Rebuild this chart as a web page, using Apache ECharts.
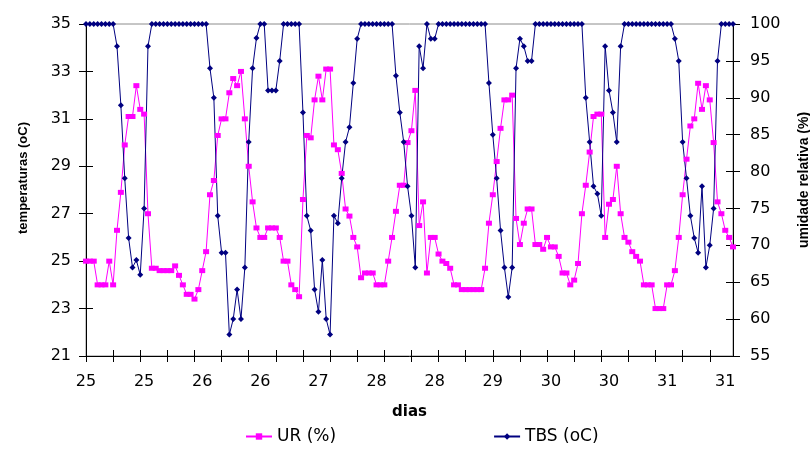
<!DOCTYPE html>
<html>
<head>
<meta charset="utf-8">
<script src="https://cdn.jsdelivr.net/npm/echarts@6/dist/echarts.min.js"></script>
<style>
html,body{margin:0;padding:0;background:#fff;}
#chart{width:810px;height:453px;}
</style>
</head>
<body>
<div id="chart"></div>
<script>
// Tick labels on the x axis (one label every 15 hourly points)
var dayLabels = ['25','25','26','26','27','28','28','29','30','30','31','31'];

// Magenta series (read on the left axis)
var urValues = [
25,25,25,24,24,24,25,24,26.3,27.9,29.9,31.1,31.1,32.4,31.4,31.2,27.0,24.7,24.7,24.6,24.6,24.6,24.6,24.8,24.4,24.0,23.6,23.6,
23.4,23.8,24.6,25.4,27.8,28.4,30.3,31.0,31.0,32.1,32.7,32.4,33.0,31.0,29.0,27.5,26.4,26.0,26.0,26.4,26.4,26.4,26.0,25.0,25.0,24.0,23.8,23.5,
27.6,30.3,30.2,31.8,32.8,31.8,33.1,33.1,29.9,29.7,28.7,27.2,26.9,26.0,25.6,24.3,24.5,24.5,24.5,24.0,24.0,24.0,25.0,26.0,27.1,28.2,28.2,30.0,30.5,32.2,
26.5,27.5,24.5,26.0,26.0,25.3,25.0,24.9,24.7,24.0,24.0,23.8,23.8,23.8,23.8,23.8,23.8,24.7,26.6,27.8,29.2,30.6,31.8,31.8,32.0,26.8,25.7,26.6,
27.2,27.2,25.7,25.7,25.5,26.0,25.6,25.6,25.2,24.5,24.5,24.0,24.2,24.9,27.0,28.2,29.6,31.1,31.2,31.2,26.0,27.4,27.6,29.0,27.0,26.0,25.8,25.4,
25.2,25.0,24.0,24.0,24.0,23.0,23.0,23.0,24.0,24.0,24.6,26.0,27.8,29.3,30.7,31.0,32.5,31.4,32.4,31.8,30.0,27.5,27.0,26.3,26.0,25.6
];

// Navy series (read on the right axis)
var tbsValues = [
100,100,100,100,100,100,100,100,97,89,79.1,71,67,68,66,75,97,
100,100,100,100,100,100,100,100,100,100,100,100,100,100,100,
94,90,74,69,69,57.9,60,64,60,67,84,94,98.1,100,100,91,91,91,95,
100,100,100,100,100,
88,74,72,64,61,68,60,57.9,74,73,79.1,84,86,92,98,
100,100,100,100,100,100,100,100,100,
93,88,84,78,74,67,97,94,100,98,98,
100,100,100,100,100,100,100,100,100,100,100,100,100,
92,85,79.1,72,67,63,67,94,98,97,95,95,
100,100,100,100,100,100,100,100,100,100,100,100,100,
90,84,78,77,74,97,91,88,84,97,
100,100,100,100,100,100,100,100,100,100,100,100,100,
98,95,84,79.1,74,71,69,78,67,70,75,95,
100,100,100,100
];

var categories = urValues.map(function (v, i) {
  return (i % 15 === 0 && dayLabels[i / 15] !== undefined) ? dayLabels[i / 15] : '';
});

var WIDE = "'DejaVu Sans', Verdana, sans-serif";
var NARROW = "'Liberation Sans', Arial, sans-serif";
var chart = echarts.init(document.getElementById('chart'), null, {renderer: 'canvas'});

function xAx(inside) {
  return {
    type: 'category',
    data: categories,
    boundaryGap: false,
    position: 'bottom',
    axisLine: {show: !inside, lineStyle: {color: '#000', width: 1}},
    axisTick: {show: true, inside: inside, interval: 6, length: 6, lineStyle: {color: '#000', width: 1}},
    axisLabel: inside ? {show: false} : {
      show: true, interval: 14, fontSize: 16, color: '#000', fontFamily: WIDE, margin: 18
    },
    splitLine: {show: false},
    name: inside ? '' : 'dias',
    nameLocation: 'middle',
    nameGap: 49,
    nameTextStyle: {fontSize: 15, fontWeight: 'bold', color: '#000', fontFamily: WIDE}
  };
}

function yAx(side, inside, min, max, interval, name, gap, pad, nameSize) {
  return {
    type: 'value',
    position: side,
    min: min, max: max, interval: interval,
    axisLine: {show: !inside, lineStyle: {color: '#000', width: 1}},
    axisTick: {show: true, inside: inside, length: 7, lineStyle: {color: '#000', width: 1}},
    axisLabel: inside ? {show: false} : {
      show: true, fontSize: 16, color: '#000', fontFamily: WIDE, margin: side === 'left' ? 15 : 17
    },
    splitLine: {show: false},
    name: inside ? '' : name,
    nameLocation: 'middle',
    nameRotate: 90,
    nameGap: gap,
    nameTextStyle: {fontSize: nameSize, fontWeight: 'bold', color: '#000', fontFamily: NARROW, padding: pad}
  };
}

chart.setOption({
  animation: false,
  backgroundColor: '#fff',
  grid: {left: 86, right: 77, top: 24, bottom: 97, show: true, borderColor: '#8c8c8c', borderWidth: 1,
         backgroundColor: 'transparent', containLabel: false, outerBoundsMode: 'none'},
  legend: {
    data: ['UR (%)', 'TBS (oC)'],
    left: 240, top: 423,
    itemWidth: 26, itemHeight: 8, itemGap: 157,
    textStyle: {fontSize: 17, color: '#000', fontFamily: WIDE}
  },
  xAxis: [xAx(false), xAx(true)],
  yAxis: [
    yAx('left', false, 21, 35, 2, 'temperaturas (oC)', 56, [0, 0, 0, 24], 13),
    yAx('right', false, 55, 100, 5, 'umidade relativa (%)', 64, [0, 0, 0, 20], 14),
    yAx('left', true, 21, 35, 2, '', 0, 0, 13),
    yAx('right', true, 55, 100, 5, '', 0, 0, 13)
  ],
  series: [
    {
      name: 'UR (%)', type: 'line', xAxisIndex: 0, yAxisIndex: 0,
      data: urValues,
      symbol: 'rect', symbolSize: [6, 5], showAllSymbol: true,
      lineStyle: {color: '#FF00FF', width: 1},
      itemStyle: {color: '#FF00FF'}
    },
    {
      name: 'TBS (oC)', type: 'line', xAxisIndex: 0, yAxisIndex: 1,
      data: tbsValues,
      symbol: 'diamond', symbolSize: [6, 6], showAllSymbol: true,
      lineStyle: {color: '#000080', width: 1},
      itemStyle: {color: '#000080'}
    }
  ]
});
</script>
</body>
</html>
